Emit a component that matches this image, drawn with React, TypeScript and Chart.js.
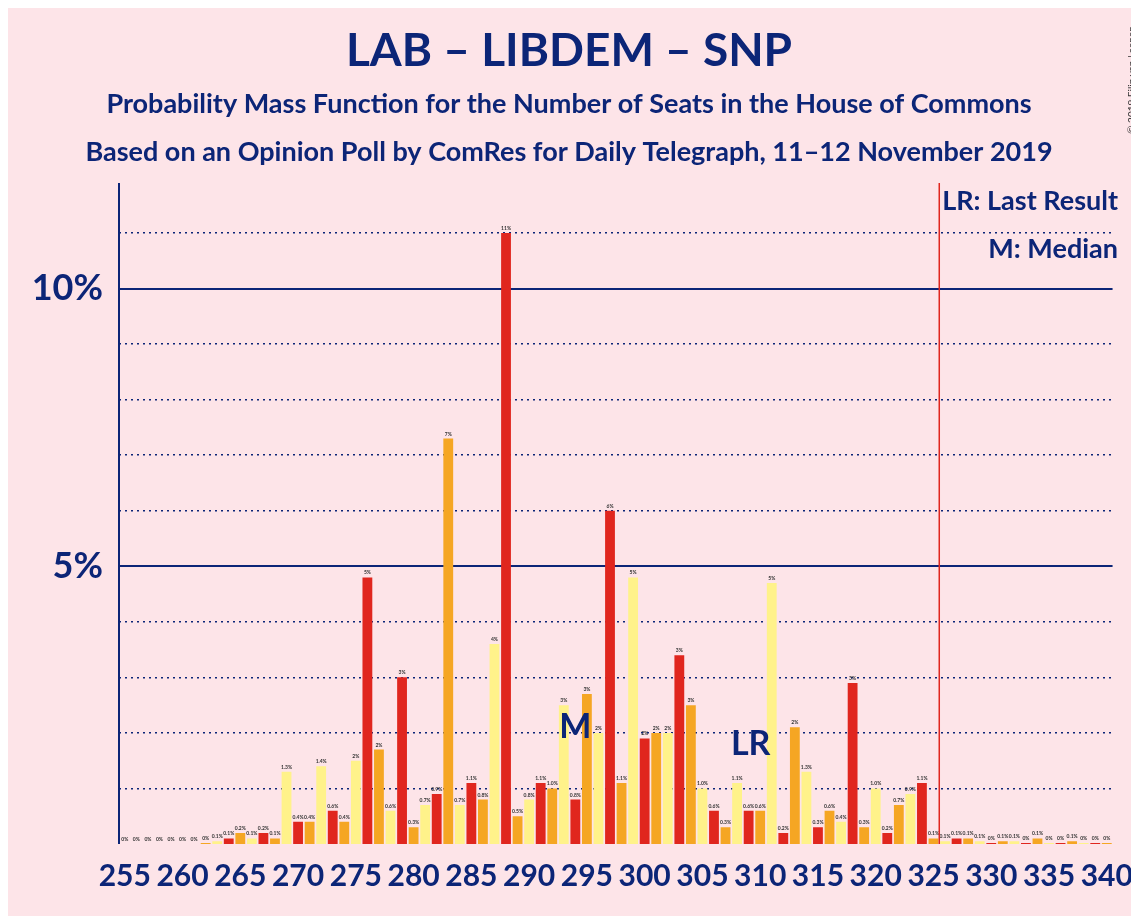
import React, { useRef, useEffect } from 'react';
import { Chart, registerables } from 'chart.js';

Chart.register(...registerables);

const seats: number[] = [];
for (let s = 255; s <= 340; s++) seats.push(s);

// probability (%) per seat, 255..340
const probs = [
  0, 0, 0, 0, 0, 0, 0, 0.02, 0.05,
  0.1, 0.2, 0.1, 0.2, 0.1, 1.3, 0.4, 0.4, 1.4, 0.6, 0.4, 1.5,
  4.8, 1.7, 0.6, 3.0, 0.3, 0.7, 0.9, 7.3, 0.7, 1.1, 0.8, 3.6,
  11.0, 0.5, 0.8, 1.1, 1.0, 2.5, 0.8, 2.7, 2.0, 6.0, 1.1, 4.8,
  1.9, 2.0, 2.0, 3.4, 2.5, 1.0, 0.6, 0.3, 1.1, 0.6, 0.6, 4.7,
  0.2, 2.1, 1.3, 0.3, 0.6, 0.4, 2.9, 0.3, 1.0, 0.2, 0.7, 0.9,
  1.1, 0.1, 0.05, 0.1, 0.1, 0.05, 0.02, 0.05, 0.05, 0.02, 0.1, 0.02,
  0.02, 0.05, 0.02, 0.02, 0.02,
];

const medianSeat = 294;
const lastResultSeat = 309;
const majoritySeat = 326;

const NAVY = '#0c2577';
const COLORS = ['#e0261e', '#f5a623', '#fff28a'];

const fmt = (v: number) => (v < 0.05 ? '0%' : v < 1.5 ? v.toFixed(1) + '%' : Math.round(v) + '%');

const App = () => {
  const ref = useRef<HTMLCanvasElement>(null);

  useEffect(() => {
    if (!ref.current) return;
    const overlay = {
      id: 'overlay',
      afterDatasetsDraw(chart: any) {
        const { ctx, scales, chartArea } = chart;
        const x = scales.x, y = scales.y;
        ctx.save();
        ctx.strokeStyle = NAVY;
        ctx.lineWidth = 2;
        ctx.beginPath();
        ctx.moveTo(chartArea.left, chartArea.top);
        ctx.lineTo(chartArea.left, chartArea.bottom);
        ctx.stroke();
        ctx.textAlign = 'center';
        ctx.fillStyle = '#333';
        ctx.font = 'bold 5px Lato';
        probs.forEach((v, i) => {
          ctx.fillText(fmt(v), x.getPixelForValue(i), y.getPixelForValue(v) - 3);
        });
        ctx.fillStyle = NAVY;
        ctx.font = 'bold 34px Lato';
        const mi = seats.indexOf(medianSeat);
        ctx.fillText('M', x.getPixelForValue(mi), y.getPixelForValue(1.9));
        const li = seats.indexOf(lastResultSeat);
        ctx.fillText('LR', x.getPixelForValue(li) + 2, y.getPixelForValue(1.6));
        const ji = seats.indexOf(majoritySeat);
        const lx = (x.getPixelForValue(ji) + x.getPixelForValue(ji - 1)) / 2;
        ctx.strokeStyle = '#e0261e';
        ctx.lineWidth = 1.5;
        ctx.beginPath();
        ctx.moveTo(lx, chartArea.top);
        ctx.lineTo(lx, chartArea.bottom);
        ctx.stroke();
        ctx.textAlign = 'right';
        ctx.font = 'bold 27px Lato';
        ctx.fillText('LR: Last Result', 1118, 210);
        ctx.fillText('M: Median', 1118, 258);
        ctx.restore();
      },
      afterDraw(chart: any) {
        const { ctx } = chart;
        ctx.save();
        ctx.fillStyle = NAVY;
        ctx.textAlign = 'center';
        ctx.font = 'bold 46px Lato';
        ctx.fillText('LAB – LIBDEM – SNP', 569, 66);
        ctx.font = 'bold 27px Lato';
        ctx.fillText('Probability Mass Function for the Number of Seats in the House of Commons', 569, 113);
        ctx.fillText('Based on an Opinion Poll by ComRes for Daily Telegraph, 11–12 November 2019', 569, 161);
        ctx.translate(1135, 80);
        ctx.rotate(-Math.PI / 2);
        ctx.font = '10px Lato';
        ctx.fillStyle = '#333';
        ctx.fillText('© 2019 Filip van Laenen', 0, 0);
        ctx.restore();
      },
    };

    const chart = new Chart(ref.current, {
      type: 'bar',
      data: {
        labels: seats.map(String),
        datasets: [{
          data: probs,
          backgroundColor: seats.map((s) => COLORS[s % 3]),
          barPercentage: 0.85,
          categoryPercentage: 1,
        }],
      },
      options: {
        animation: false,
        responsive: false,
        layout: { padding: { top: 183, right: 20, left: 0, bottom: 24 } },
        plugins: { legend: { display: false }, tooltip: { enabled: false } },
        scales: {
          x: {
            grid: { display: false },
            border: { display: false },
            ticks: {
              autoSkip: false,
              maxRotation: 0,
              padding: 6,
              color: NAVY,
              font: { family: 'Lato', weight: 'bold', size: 30 },
              callback: (_v: any, i: number) => (seats[i] % 5 === 0 ? String(seats[i]) : ''),
            },
          },
          y: {
            min: 0,
            max: 11.9,
            afterFit: (ax: any) => { ax.width = 119; },
            border: {
              display: false,
              dash: (c: any) => (c.tick && c.tick.value % 5 === 0 ? [] : [2, 4]),
            },
            grid: {
              color: NAVY,
              lineWidth: (c: any) => (c.tick && c.tick.value % 5 === 0 ? 2 : 1.5),
              drawTicks: false,
            },
            afterBuildTicks: (ax: any) => {
              ax.ticks = [1, 2, 3, 4, 5, 6, 7, 8, 9, 10, 11].map((v) => ({ value: v }));
            },
            ticks: {
              color: NAVY,
              padding: 16,
              font: { family: 'Lato', weight: 'bold', size: 36 },
              callback: (v: any) => (v === 5 || v === 10 ? v + '%' : ''),
            },
          },
        },
      } as any,
      plugins: [overlay],
    });
    return () => chart.destroy();
  }, []);

  return (
    <div style={{ width: 1139, height: 924, background: '#fde4e8', margin: -8 }}>
      <canvas ref={ref} width={1139} height={924} style={{ display: 'block' }} />
    </div>
  );
};

export default App;
